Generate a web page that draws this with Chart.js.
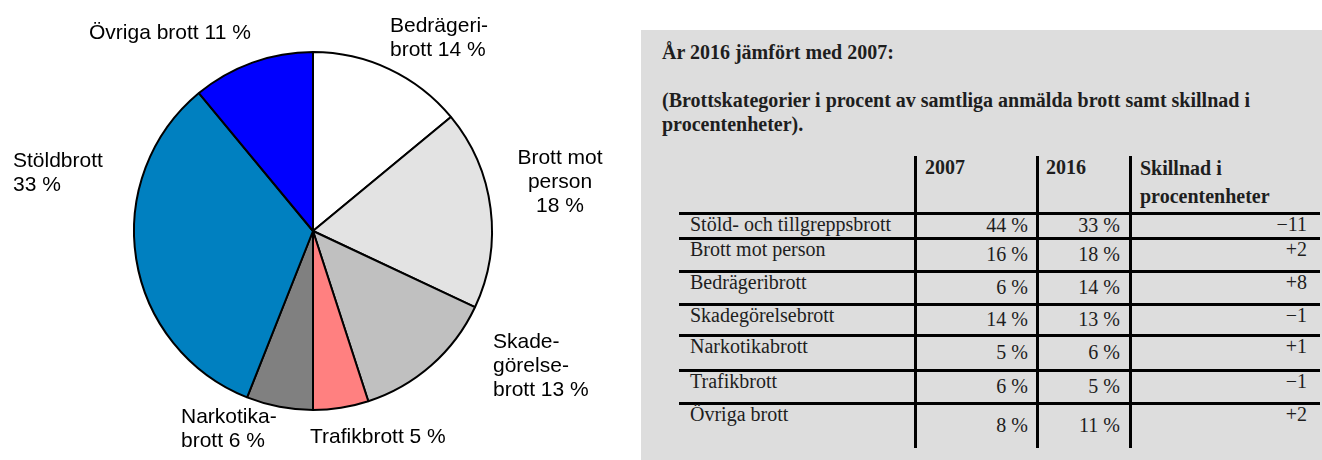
<!DOCTYPE html>
<html lang="sv">
<head>
<meta charset="utf-8">
<title>Anmälda brott 2016</title>
<script src="https://cdn.jsdelivr.net/npm/chart.js@4/dist/chart.umd.min.js"></script>
<style>
    html, body { margin: 0; padding: 0; background: #fff; }
    body { width: 1322px; height: 460px; position: relative; overflow: hidden; }
    #pieWrap { position: absolute; left: 0; top: 0; width: 630px; height: 460px; }
    #panel {
        position: absolute; left: 641px; top: 30px; width: 681px; height: 430px;
        background: #dddddd;
    }
    .serif { font-family: "Liberation Serif", "Times New Roman", serif; color: #1e1e1e; }
    .txt { position: absolute; white-space: nowrap; font-size: 20px; line-height: 24px; }
    .bold { font-weight: bold; }
    .rule { position: absolute; background: #000; }
</style>
</head>
<body>
<div id="pieWrap"><canvas id="pieChart"></canvas></div>
<div id="panel"></div>
<div id="table"></div>

<script>
// Pie: share of all reported crimes 2016 (clockwise from 12 o'clock)
const pieCategories = ['Bedrägeribrott', 'Brott mot person', 'Skadegörelsebrott', 'Trafikbrott',
    'Narkotikabrott', 'Stöldbrott', 'Övriga brott'];
const pieValues = [14, 18, 13, 5, 6, 33, 11];
const pieColors = ['#ffffff', '#e3e3e3', '#c0c0c0', '#ff8080', '#808080', '#0080c0', '#0000ff'];
// label text, {v} is replaced by the slice value
const pieLabelLines = [
    ['Bedrägeri-', 'brott {v} %'],
    ['Brott mot', 'person', '{v} %'],
    ['Skade-', 'görelse-', 'brott {v} %'],
    ['Trafikbrott {v} %'],
    ['Narkotika-', 'brott {v} %'],
    ['Stöldbrott', '{v} %'],
    ['Övriga brott {v} %']
];

// Table: 2016 compared with 2007
const tableTitle = 'År 2016 jämfört med 2007:';
const tableNote = ['(Brottskategorier i procent av samtliga anmälda brott samt skillnad i', 'procentenheter).'];
const tableHeaders = ['2007', '2016', ['Skillnad i', 'procentenheter']];
const tableRows = ['Stöld- och tillgreppsbrott', 'Brott mot person', 'Bedrägeribrott',
    'Skadegörelsebrott', 'Narkotikabrott', 'Trafikbrott', 'Övriga brott'];
const share2007 = [44, 16, 6, 14, 5, 6, 8];
const share2016 = [33, 18, 14, 13, 6, 5, 11];
const diffPoints = ['−11', '+2', '+8', '−1', '+1', '−1', '+2'];

// where each pie label sits, relative to the pie centre (first-line baseline)
const labelPlacement = [
    { dx: 77, dy: -199, align: 'left' },
    { dx: 247, dy: -67, align: 'center' },
    { dx: 180, dy: 117, align: 'left' },
    { dx: -3, dy: 212, align: 'left' },
    { dx: -132, dy: 192, align: 'left' },
    { dx: -300, dy: -64, align: 'left' },
    { dx: -224, dy: -192, align: 'left' }
];

const pieLabels = {
    id: 'pieLabels',
    afterDatasetsDraw(chart) {
        const ctx = chart.ctx;
        const arcs = chart.getDatasetMeta(0).data;
        ctx.save();
        ctx.font = '21px "Liberation Sans", Arial, sans-serif';
        ctx.fillStyle = '#000';
        ctx.textBaseline = 'alphabetic';
        arcs.forEach((arc, i) => {
            const p = labelPlacement[i];
            ctx.textAlign = p.align;
            pieLabelLines[i].forEach((line, k) => {
                ctx.fillText(line.replace('{v}', pieValues[i]), arc.x + p.dx, arc.y + p.dy + k * 24);
            });
        });
        ctx.restore();
    }
};

document.addEventListener('DOMContentLoaded', () => {
    initializePie();
    buildTable();
});

function initializePie() {
    const ctx = document.getElementById('pieChart').getContext('2d');
    new Chart(ctx, {
        type: 'pie',
        data: {
            labels: pieCategories,
            datasets: [{
                data: pieValues,
                backgroundColor: pieColors,
                borderColor: '#000',
                borderWidth: 2
            }]
        },
        options: {
            responsive: true,
            maintainAspectRatio: false,
            animation: false,
            radius: 179,
            layout: { padding: { left: 0, right: 4, top: 2, bottom: 0 } },
            plugins: {
                legend: { display: false },
                tooltip: { enabled: false }
            }
        },
        plugins: [pieLabels]
    });
}

// table grid: line centres
const colX = [679, 915, 1037, 1130, 1320];
const rowY = [156, 213, 238, 271, 304, 335, 370, 403, 448];

function addText(text, x, baseline, opts = {}) {
    const el = document.createElement('div');
    el.className = 'txt serif' + (opts.bold ? ' bold' : '');
    el.textContent = text;
    // Liberation Serif 20px in a 24px line: baseline ~19px below line top
    el.style.top = (baseline - 19) + 'px';
    if (opts.right) {
        el.style.right = (1322 - x) + 'px';
        el.style.textAlign = 'right';
    } else {
        el.style.left = x + 'px';
    }
    document.getElementById('table').appendChild(el);
}

function addRule(x, y, w, h) {
    const el = document.createElement('div');
    el.className = 'rule';
    el.style.left = x + 'px';
    el.style.top = y + 'px';
    el.style.width = w + 'px';
    el.style.height = h + 'px';
    document.getElementById('table').appendChild(el);
}

function buildTable() {
    addText(tableTitle, 662, 59, { bold: true });
    tableNote.forEach((line, i) => addText(line, 662, 107 + i * 24, { bold: true }));

    // header
    addText(tableHeaders[0], colX[1] + 10, 174, { bold: true });
    addText(tableHeaders[1], colX[2] + 9, 174, { bold: true });
    tableHeaders[2].forEach((line, i) => addText(line, colX[3] + 10, 175 + i * 28, { bold: true }));

    // rules
    for (let r = 1; r <= tableRows.length; r++) {
        addRule(colX[0], rowY[r] - 1.5, colX[4] - colX[0], 3);
    }
    for (let c = 1; c <= 3; c++) {
        addRule(colX[c] - 1.5, rowY[0], 3, rowY[rowY.length - 1] - rowY[0]);
    }

    // body
    tableRows.forEach((name, i) => {
        const top = rowY[i + 1];
        const bottom = rowY[i + 2];
        const mid = (top + bottom) / 2;
        addText(name, colX[0] + 11, top + 18);
        addText(share2007[i] + ' %', colX[2] - 9, mid + 6, { right: true });
        addText(share2016[i] + ' %', colX[3] - 10, mid + 6, { right: true });
        addText(diffPoints[i], colX[4] - 13, top + 18, { right: true });
    });
}
</script>
</body>
</html>
